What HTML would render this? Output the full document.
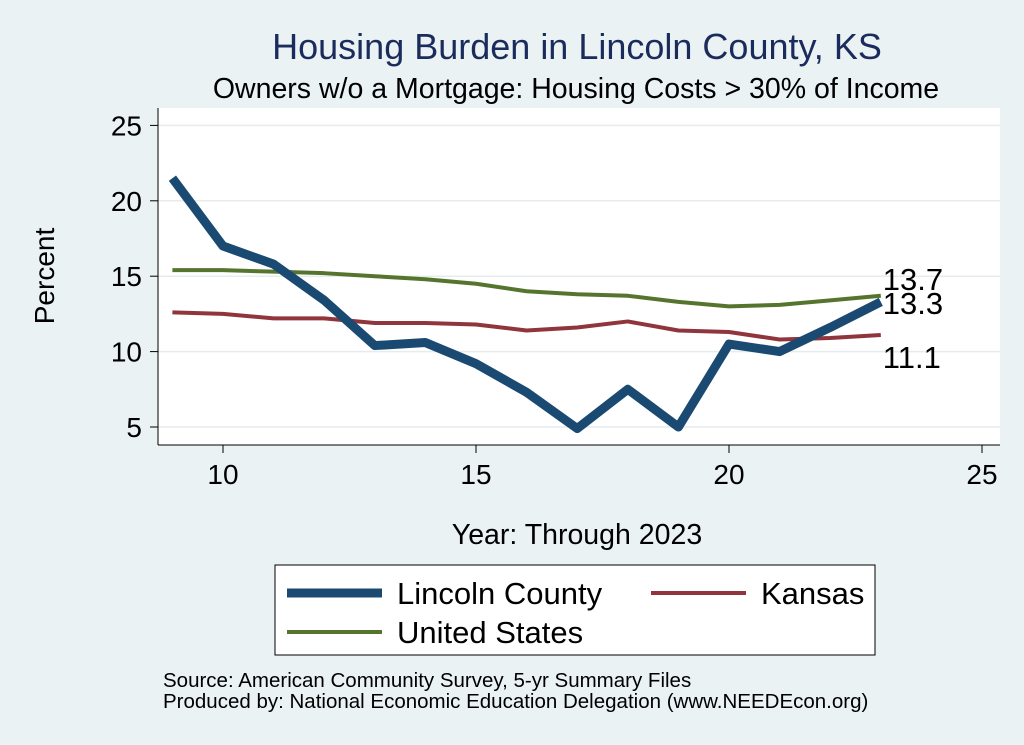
<!DOCTYPE html>
<html><head><meta charset="utf-8"><style>
body{margin:0;background:#eaf2f3;font-family:"Liberation Sans",sans-serif}
svg{display:block}
</style></head><body>
<svg id="c" width="1024" height="745" viewBox="0 0 1024 745">
<rect x="0" y="0" width="1024" height="745" fill="#eaf2f3"/>
<rect x="158" y="108" width="842" height="337" fill="#fff"/>
<text x="577" y="59" text-anchor="middle" font-size="36" fill="#1a2b5c">Housing Burden in Lincoln County, KS</text>
<text x="576" y="98" text-anchor="middle" font-size="28.5" fill="#000">Owners w/o a Mortgage: Housing Costs &gt; 30% of Income</text>
<g id="grid"></g><g id="axes"></g><g id="series"></g>
<text x="54" y="276" text-anchor="middle" font-size="28" transform="rotate(-90 54 276)">Percent</text>
<text x="577" y="544" text-anchor="middle" font-size="28.5">Year: Through 2023</text>
<g>
<rect x="275" y="565" width="600" height="90" fill="#fff" stroke="#000" stroke-width="1"/>
<g><line x1="287" y1="593" x2="382" y2="593" stroke="#1a4a72" stroke-width="9"/><text x="397" y="604" font-size="31">Lincoln County</text></g>
<g><line x1="651" y1="593" x2="746" y2="593" stroke="#90353b" stroke-width="4"/><text x="761" y="604" font-size="31">Kansas</text></g>
<g><line x1="287" y1="632" x2="382" y2="632" stroke="#55752f" stroke-width="4"/><text x="397" y="643" font-size="31">United States</text></g>
</g>
<text x="163" y="687" font-size="20.5">Source: American Community Survey, 5-yr Summary Files</text>
<text x="163" y="708" font-size="20.5">Produced by: National Economic Education Delegation (www.NEEDEcon.org)</text>
</svg>
<script>
const years=[9,10,11,12,13,14,15,16,17,18,19,20,21,22,23];
const lincoln=[21.5,17.0,15.8,13.4,10.4,10.6,9.2,7.3,4.9,7.5,5.0,10.5,10.0,11.6,13.3];
const kansas=[12.6,12.5,12.2,12.2,11.9,11.9,11.8,11.4,11.6,12.0,11.4,11.3,10.8,10.9,11.1];
const us=[15.4,15.4,15.3,15.2,15.0,14.8,14.5,14.0,13.8,13.7,13.3,13.0,13.1,13.4,13.7];
const xTicks=[10,15,20,25];
const yTicks=[5,10,15,20,25];
const NS="http://www.w3.org/2000/svg";
const X=v=>223+(v-10)*50.6;
const Y=v=>427-(v-5)*15.08;
function mk(t,a,p){const e=document.createElementNS(NS,t);for(const k in a)e.setAttribute(k,a[k]);document.getElementById(p).appendChild(e);return e;}
yTicks.forEach(v=>{
 const g=mk('line',{x1:158,x2:1000,y1:Y(v),y2:Y(v),stroke:'#e6ecee','stroke-width':1.5},'grid');
 
 
 const t=mk('line',{x1:150,x2:158,y1:Y(v),y2:Y(v),stroke:'#000'},'axes');
 
 
 const l=mk('text',{x:142,y:Y(v)+10,'text-anchor':'end','font-size':28},'axes');l.textContent=v;
 
 
});
xTicks.forEach(v=>{
 const t=mk('line',{x1:X(v),x2:X(v),y1:445,y2:453,stroke:'#000'},'axes');
 
 
 const l=mk('text',{x:X(v),y:484,'text-anchor':'middle','font-size':28},'axes');l.textContent=v;
 
 
});
const ya=mk('line',{x1:158,x2:158,y1:108,y2:445,stroke:'#000'},'axes');


const xa=mk('line',{x1:158,x2:1000,y1:445,y2:445,stroke:'#000'},'axes');


function line(d,c,w,name){
 const p=mk('polyline',{points:years.map((y,i)=>X(y)+','+Y(d[i])).join(' '),fill:'none',stroke:c,'stroke-width':w,'stroke-linejoin':'round'},'series');
 
 
}
line(us,'#55752f',4,'line-united-states');
line(kansas,'#90353b',4,'line-kansas');
line(lincoln,'#1a4a72',9,'line-lincoln-county');
const n=years.length-1;
[[us,'label-us-last',-6],[lincoln,'label-lincoln-last',12],[kansas,'label-kansas-last',33]].forEach(([d,nm,dy])=>{
 const t=mk('text',{x:X(years[n])+2,y:Y(d[n])+dy,'font-size':31},'series');t.textContent=d[n].toFixed(1);
 
 
});
</script>
</body></html>
